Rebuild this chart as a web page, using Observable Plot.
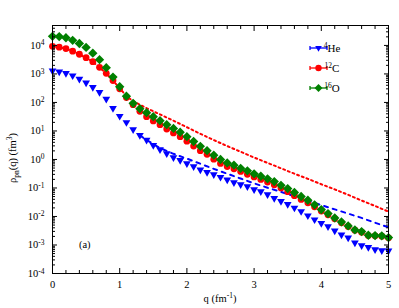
<!DOCTYPE html>
<html><head><meta charset="utf-8">
<script src="https://cdn.jsdelivr.net/npm/d3@7"></script>
<script src="https://cdn.jsdelivr.net/npm/@observablehq/plot@0.6"></script>
<style>
body{margin:0;background:#fff;}
#chart{width:399px;height:308px;}
</style></head><body><div id="chart"></div>
<script>
// ---- data ----
const q = [0,0.1,0.2,0.3,0.4,0.5,0.6,0.7,0.8,0.9,1.0,1.1,1.2,1.3,1.4,1.5,1.6,1.7,1.8,1.9,2.0,2.1,2.2,2.3,2.4,2.5,2.6,2.7,2.8,2.9,3.0,3.1,3.2,3.3,3.4,3.5,3.6,3.7,3.8,3.9,4.0,4.1,4.2,4.3,4.4,4.5,4.6,4.7,4.8,4.9,5.0];
const heValues = [1290,1200,1050,871,661,490,339,229,132,63,33.1,20.0,11.2,7.08,4.79,3.16,2.24,1.62,1.17,0.933,0.724,0.562,0.437,0.355,0.295,0.240,0.193,0.155,0.132,0.112,0.0881,0.0748,0.0587,0.0436,0.0340,0.0267,0.0200,0.0151,0.0107,0.00776,0.00575,0.00447,0.00316,0.00229,0.00178,0.00120,0.000955,0.000832,0.000692,0.000646,0.000631];
const cValues = [9330,8710,7760,6310,4900,3720,2690,1700,1050,589,302,148,83.2,49.0,31.6,22.4,16.6,11.7,8.51,6.31,4.37,2.95,2.04,1.51,1.02,0.724,0.562,0.468,0.380,0.302,0.245,0.200,0.162,0.129,0.100,0.0741,0.0537,0.0398,0.0302,0.0219,0.0155,0.0115,0.00832,0.00603,0.00447,0.00331,0.00282,0.00214,0.00209,0.00204,0.00178];
const oValues = [20900,20400,18600,15100,11700,8510,5370,3160,1660,776,355,166,93.3,60.3,43.7,31.6,22.9,16.6,12.3,9.02,6.31,4.27,2.88,2.04,1.41,1.0,0.759,0.631,0.490,0.398,0.313,0.257,0.209,0.168,0.124,0.0955,0.0692,0.0501,0.0372,0.0257,0.0174,0.0126,0.00891,0.00646,0.00468,0.00339,0.00295,0.00219,0.00214,0.00209,0.00182];
// model curves
const cLineQ = [0,0.2,0.4,0.6,0.8,1.0,1.1,1.2,1.3,1.4,1.6,1.8,2.0,2.2,2.4,2.6,2.8,3.0,3.2,3.4,3.6,3.8,4.0,4.2,4.4,4.6,4.8,5.0];
const cLineValues = [9330,7760,4900,2690,1050,316,166,112,83.2,63.1,38.0,22.9,13.5,7.94,4.79,2.95,1.86,1.17,0.759,0.490,0.316,0.209,0.135,0.0891,0.0575,0.0363,0.0234,0.0148];
const heLineQ = [1.3,1.4,1.6,1.8,2.0,2.2,2.4,2.6,2.8,3.0,3.2,3.4,3.6,3.8,4.0,4.2,4.4,4.6,4.8,5.0];
const heLineValues = [7.08,4.79,2.51,1.58,1.07,0.708,0.468,0.316,0.214,0.145,0.102,0.0724,0.0513,0.0355,0.0251,0.0178,0.0126,0.00891,0.00603,0.00417];
const xTickLabels = [0,1,2,3,4,5];
const yTickExponents = [-4,-3,-2,-1,0,1,2,3,4];
const seriesMass = ["4","12","16"];
const seriesElement = ["He","C","O"];
const annotations = [{q:0.48, v:1e-3, label:"(a)"}];

// ---- styling ----
const blue = "#0000ff", red = "#ff0000", green = "#008000";
const colors = [blue, red, green];
const fontFamily = "'Liberation Serif', 'DejaVu Serif', serif";

const he = q.map((x, i) => ({q: x, v: heValues[i]}));
const c = q.map((x, i) => ({q: x, v: cValues[i]}));
const o = q.map((x, i) => ({q: x, v: oValues[i]}));
const cLine = cLineQ.map((x, i) => ({q: x, v: cLineValues[i]}));
const heLine = heLineQ.map((x, i) => ({q: x, v: heLineValues[i]}));

const yMajor = yTickExponents.map(e => Math.pow(10, e));
const yMinor = [];
yTickExponents.forEach(e => { for (let m = 2; m <= 9; m++) { const v = m * Math.pow(10, e); if (v <= 5e4) yMinor.push(v); } });
const xMinor = d3.range(0, 25).map(i => i * 0.2).filter(v => Math.abs(v - Math.round(v)) > 1e-6);

const tickOnly = {fill: "none", label: null};

const plot = Plot.plot({
  width: 399, height: 308,
  marginLeft: 52, marginRight: 11, marginTop: 25, marginBottom: 35,
  style: {fontFamily, fontSize: "10.5px", background: "white", color: "black"},
  x: {domain: [0, 5]},
  y: {type: "log", domain: [1e-4, 5e4]},
  marks: [
    Plot.line(cLine, {x: "q", y: "v", stroke: red, strokeWidth: 2, strokeDasharray: "2,3"}),
    Plot.line(heLine, {x: "q", y: "v", stroke: blue, strokeWidth: 2, strokeDasharray: "4,5"}),
    Plot.dot(he, {x: "q", y: "v", symbol: "triangle2", r: 3.7, fill: blue, rotate: 180}),
    Plot.dot(c, {x: "q", y: "v", symbol: "circle", r: 3.4, fill: red}),
    Plot.dot(o, {x: "q", y: "v", symbol: "diamond2", r: 4.2, fill: green}),
    Plot.axisX(xTickLabels, {anchor: "bottom", tickSize: 0, tickPadding: 7, label: null, tickFormat: d => String(d)}),
    Plot.axisX(xTickLabels, {anchor: "bottom", tickSize: -5, ...tickOnly}),
    Plot.axisX(xMinor, {anchor: "bottom", tickSize: -3, ...tickOnly}),
    Plot.axisX(xTickLabels, {anchor: "top", tickSize: -5, ...tickOnly}),
    Plot.axisX(xMinor, {anchor: "top", tickSize: -3, ...tickOnly}),
    Plot.axisY(yMajor, {anchor: "left", tickSize: 0, tickPadding: 8, label: null, tickFormat: d => "10^" + Math.round(Math.log10(d))}),
    Plot.axisY(yMajor, {anchor: "left", tickSize: -5, ...tickOnly}),
    Plot.axisY(yMinor, {anchor: "left", tickSize: -3, ...tickOnly}),
    Plot.axisY(yMajor, {anchor: "right", tickSize: -5, ...tickOnly}),
    Plot.axisY(yMinor, {anchor: "right", tickSize: -3, ...tickOnly}),
    Plot.text(annotations, {x: "q", y: "v", text: "label", fontSize: 10.5}),
    Plot.frame({stroke: "black", strokeWidth: 1})
  ]
});
document.getElementById("chart").appendChild(plot);

const svg = d3.select(plot);
svg.selectAll("g[aria-label='y-axis tick label'] text").each(function() {
  const t = d3.select(this);
  const s = t.text();
  if (!s.includes("^")) return;
  const [base, exp] = s.split("^");
  t.text(null);
  t.append("tspan").text(base);
  t.append("tspan").attr("dy", "-0.45em").attr("font-size", "7.5px").text(exp);
});

const X = plot.scale("x"), Y = plot.scale("y");
const frameLeft = X.range[0], frameRight = X.range[1], frameTop = Y.range[1], frameBottom = Y.range[0];

const xt = svg.append("text").attr("x", (frameLeft + frameRight) / 2).attr("y", frameBottom + 29)
  .attr("text-anchor", "middle").attr("font-family", fontFamily).attr("font-size", 10.5).attr("fill", "black");
xt.append("tspan").text("q (fm");
xt.append("tspan").attr("dy", "-4").attr("font-size", 7.5).text("-1");
xt.append("tspan").attr("dy", "4").text(")");

const yt = svg.append("text").attr("transform", `translate(16,${(frameTop + frameBottom) / 2 + 9}) rotate(-90)`)
  .attr("text-anchor", "middle").attr("font-family", fontFamily).attr("font-size", 10.5).attr("fill", "black");
yt.append("tspan").text("ρ");
yt.append("tspan").attr("dy", "2.5").attr("font-size", 7.5).text("pn");
yt.append("tspan").attr("dy", "-2.5").text("(q) (fm");
yt.append("tspan").attr("dy", "-4").attr("font-size", 7.5).text("3");
yt.append("tspan").attr("dy", "4").text(")");

const lg = svg.append("g").attr("font-family", fontFamily).attr("font-size", 11);
seriesElement.forEach((name, i) => {
  const cy = frameTop + 23 + i * 20, x0 = frameRight - 78, x1 = frameRight - 61, cx = (x0 + x1) / 2;
  const g = lg.append("g");
  g.append("line").attr("x1", x0).attr("x2", x1).attr("y1", cy).attr("y2", cy).attr("stroke", colors[i]).attr("stroke-width", 1.3);
  g.append("line").attr("x1", x0).attr("x2", x0).attr("y1", cy - 2).attr("y2", cy + 2).attr("stroke", colors[i]).attr("stroke-width", 1.3);
  g.append("line").attr("x1", x1).attr("x2", x1).attr("y1", cy - 2).attr("y2", cy + 2).attr("stroke", colors[i]).attr("stroke-width", 1.3);
  const sym = d3.symbol(i === 0 ? d3.symbolTriangle2 : i === 1 ? d3.symbolCircle : d3.symbolDiamond2, i === 2 ? 40 : 32)();
  g.append("path").attr("d", sym).attr("fill", colors[i])
    .attr("transform", `translate(${cx},${cy})` + (i === 0 ? " rotate(180)" : ""));
  const t = g.append("text").attr("x", x1 + 5).attr("y", cy + 4).attr("fill", "black");
  t.append("tspan").attr("dy", "-4").attr("font-size", 7.5).text(seriesMass[i]);
  t.append("tspan").attr("dy", "4").text(name);
});
</script>
</body></html>
